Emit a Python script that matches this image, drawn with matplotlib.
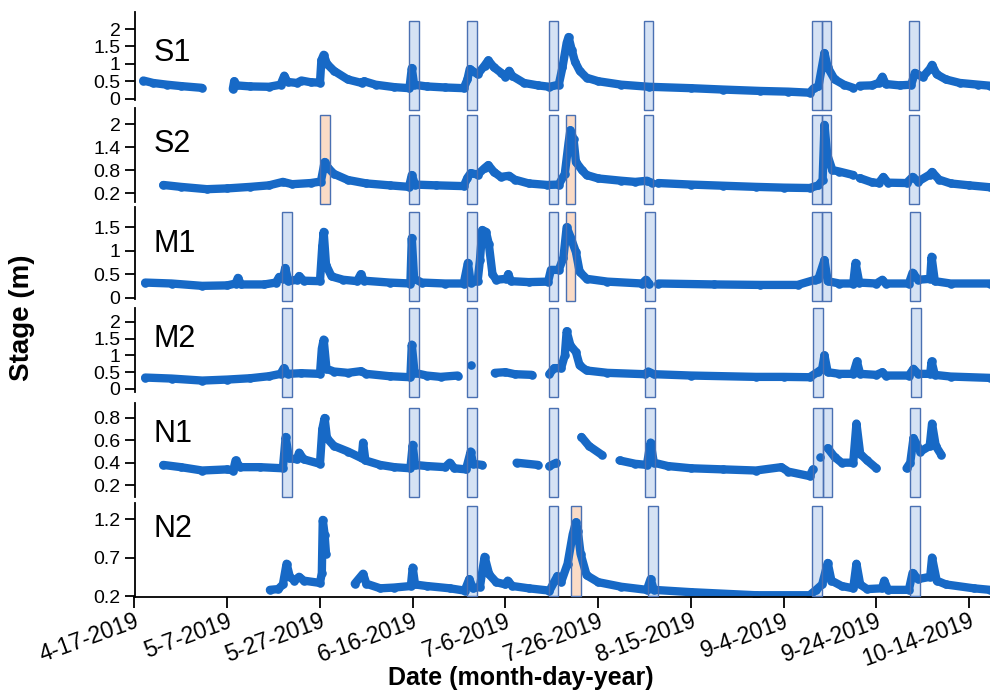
import numpy as np
import pandas as pd
import matplotlib
matplotlib.use("Agg")
import matplotlib.pyplot as plt
import matplotlib.dates as mdates
from matplotlib.patches import Rectangle
from matplotlib.transforms import blended_transform_factory

plt.rcParams['font.family'] = ['Liberation Sans', 'DejaVu Sans']

# ---------------- data ----------------
START_DATE = "2019-04-17"
END_DAY = 184.5
TICK_LABELS = ["4-17-2019", "5-7-2019", "5-27-2019", "6-16-2019", "7-6-2019",
               "7-26-2019", "8-15-2019", "9-4-2019", "9-24-2019", "10-14-2019"]
NAN = np.nan

# day offsets from 2019-04-17 and stage (m); NaN = gap in record
s1_day = [1.9, 4, 7, 10, 14.5, NAN, 21.2, 21.5, 22, 25, 29, 31.5, 32.3, 33, 35, 36, 38, 40, 40.3, 40.8,
          41.5, 43, 46, 49, 49.5, 52, 56, 59.3, 59.8, 60.3, 63, 67, 71, 71.8, 72.3, 74, 75.5, 76.3,
          77.5, 79, 80, 80.8, 81.5, 84, 87, 89.5, 91.5, 92.3, 93.2, 93.6, 94.3, 95, 96, 97.5, 100,
          105, 111, 120, 127, 135, 141, 145.6, 146.5, 147.5, 148.8, 149.5, 151, 153, 155, NAN, 156.4,
          159, 160.5, 161.3, 162, 165, 167.5, 168.3, 170, 171.5, 172, 173, 175, 178, 182, 184.5]
s1_val = [0.52, 0.45, 0.40, 0.36, 0.31, NAN, 0.28, 0.50, 0.38, 0.35, 0.34, 0.40, 0.66, 0.48, 0.45, 0.52,
          0.47, 0.46, 1.10, 1.26, 1.00, 0.80, 0.55, 0.45, 0.50, 0.40, 0.33, 0.30, 0.88, 0.40, 0.35, 0.32,
          0.30, 0.55, 0.85, 0.70, 0.95, 1.10, 0.90, 0.75, 0.63, 0.80, 0.65, 0.45, 0.38, 0.34, 0.40, 0.90,
          1.60, 1.77, 1.40, 1.06, 0.80, 0.60, 0.50, 0.40, 0.34, 0.30, 0.26, 0.22, 0.20, 0.17, 0.30, 0.35,
          1.31, 0.90, 0.55, 0.40, 0.31, NAN, 0.37, 0.38, 0.45, 0.63, 0.42, 0.38, 0.40, 0.74, 0.62, 0.85,
          0.97, 0.70, 0.55, 0.45, 0.40, 0.37]

s2_day = [6.2, 10, 15.6, 20, 25, 29, 32, 34, 38, 40.2, 41, 41.8, 43, 46, 50, 55, 59.2, 59.8, 60.5, 65,
          71, 71.8, 72.5, 74, 75.5, 76.3, 77.5, 79, 80.8, 82, 85, 89, 91.5, 92.8, 93.6, 94, 94.7, 95.2,
          96.5, 97.5, 100, 105, 108, 110.5, 111.5, NAN, 113, 120, 127, 134, 140, 145.6, 147.5, 148.4,
          148.8, 149.4, 150.5, 152, 155, NAN, 156.4, 159, 160.5, 161.5, 162.5, 166.5, 167.8, 169, 171.5,
          172, 173.5, 176, 180, 184.5]
s2_val = [0.41, 0.36, 0.30, 0.32, 0.36, 0.40, 0.49, 0.43, 0.46, 0.50, 1.01, 0.85, 0.70, 0.54, 0.45, 0.40,
          0.36, 0.67, 0.42, 0.40, 0.38, 0.60, 0.72, 0.68, 0.85, 0.93, 0.75, 0.62, 0.65, 0.55, 0.45, 0.41,
          0.42, 0.70, 1.50, 1.84, 1.60, 1.01, 0.80, 0.67, 0.58, 0.52, 0.49, 0.52, 0.47, NAN, 0.46, 0.42,
          0.39, 0.36, 0.34, 0.33, 0.40, 0.54, 1.98, 1.20, 0.80, 0.76, 0.67, NAN, 0.59, 0.48, 0.46, 0.62,
          0.47, 0.46, 0.62, 0.50, 0.68, 0.75, 0.55, 0.45, 0.40, 0.35]

m1_day = [2.3, 8, 14.6, 20, 21.8, 22.3, 23, 28, 30.5, 31.2, 32, 32.5, 33.2, 35, 35.5, 36.5, 40, 40.5,
          40.8, 41.3, 42.5, 45, 48, 48.8, 49.5, 55, 59.5, 59.8, 60.3, 62, 67, 71, 71.9, 72.5, 74, 74.5,
          75, 75.8, 76.4, 77.2, 78, 80.2, 80.6, 81.2, 85, 89.2, 89.8, 91.5, 92.5, 93.2, 94, 95.2, 96,
          97.5, 102, 109.5, 110.3, 111, NAN, 113, 125, 135, 143, 146.8, 147.5, 148.8, 149.5, 152, 155,
          155.5, 156.3, 160, 161.3, 162, 167, 167.8, 169, 171.6, 171.9, 172.6, 176, 184.5]
m1_val = [0.32, 0.30, 0.25, 0.26, 0.30, 0.42, 0.28, 0.28, 0.32, 0.44, 0.40, 0.63, 0.35, 0.38, 0.46, 0.36,
          0.35, 1.10, 1.40, 0.70, 0.45, 0.38, 0.35, 0.50, 0.36, 0.32, 0.30, 1.27, 0.40, 0.32, 0.30, 0.30,
          0.74, 0.32, 0.35, 0.80, 1.44, 1.40, 1.15, 0.50, 0.38, 0.40, 0.50, 0.35, 0.33, 0.34, 0.59, 0.59,
          0.85, 1.50, 1.30, 0.97, 0.55, 0.40, 0.34, 0.30, 0.38, 0.30, NAN, 0.30, 0.28, 0.27, 0.27, 0.38,
          0.40, 0.80, 0.35, 0.30, 0.30, 0.74, 0.32, 0.30, 0.38, 0.30, 0.30, 0.53, 0.38, 0.40, 0.87, 0.35,
          0.30, 0.30]

m2_day = [2.3, 8, 14.6, 20, 25, 29, 31.5, 32.2, 33, 36, 40, 40.4, 40.8, 41.4, 43, 46, 48.8, 50, 55, 59.5,
          59.8, 60.4, 63, 66, 69.7, NAN, 72.5, NAN, 77.7, 80, 82, 85.7, NAN, 89.5, 90.5, 92, 92.8, 93.2,
          94, 95.2, 96, 97.5, 102, 110, 110.8, 112, 120, 134, 140, 145.6, 147.3, 148.3, 148.8, 149.5,
          152, 155, 155.8, 156.5, 160, 161.3, 162, 167, 168, 169, 171.6, 171.9, 172.6, 176, 184.5]
m2_val = [0.34, 0.31, 0.25, 0.28, 0.32, 0.38, 0.45, 0.62, 0.45, 0.47, 0.45, 1.20, 1.47, 0.60, 0.52, 0.48,
          0.53, 0.45, 0.38, 0.35, 1.32, 0.48, 0.40, 0.36, 0.40, NAN, 0.70, NAN, 0.48, 0.50, 0.44, 0.42,
          NAN, 0.45, 0.62, 0.62, 1.00, 1.72, 1.30, 1.10, 0.70, 0.55, 0.48, 0.44, 0.52, 0.44, 0.40, 0.36,
          0.36, 0.35, 0.50, 0.60, 1.00, 0.50, 0.45, 0.45, 0.82, 0.45, 0.42, 0.50, 0.40, 0.40, 0.60, 0.45,
          0.45, 0.82, 0.42, 0.37, 0.33]

n1_day = [6.2, 10, 14.6, 20, 21.3, 21.8, 22.8, 27, 32, 32.6, 33.3, 35, 35.5, 36.5, 40, 40.5, 41, 41.5,
          43, 46, 49, 49.3, 49.8, 53, 56, 59.5, 60, 60.5, 63, 67, 68, 69, 71.5, 72.5, 73, 75, NAN, 82.4,
          87, NAN, 89.5, 91, NAN, 96.4, 98, 100.8, NAN, 104.6, 108, 110.5, 111.3, 112, 115, 120, 127,
          134, 139.5, 141, 145.6, 146.3, NAN, 147.8, NAN, 149.5, 151, 152.5, 155, 155.7, 156.5, 158,
          160, NAN, 166.5, 167.3, 168, 169.5, 171.5, 172, 172.8, 174]
n1_val = [0.38, 0.36, 0.33, 0.34, 0.33, 0.42, 0.36, 0.36, 0.35, 0.63, 0.44, 0.43, 0.49, 0.43, 0.39, 0.70,
          0.80, 0.62, 0.55, 0.50, 0.44, 0.58, 0.42, 0.38, 0.36, 0.35, 0.56, 0.38, 0.37, 0.36, 0.40, 0.35,
          0.34, 0.50, 0.39, 0.38, NAN, 0.40, 0.38, NAN, 0.37, 0.40, NAN, 0.63, 0.55, 0.47, NAN, 0.42,
          0.39, 0.38, 0.58, 0.40, 0.37, 0.35, 0.34, 0.33, 0.36, 0.32, 0.28, 0.34, NAN, 0.45, NAN, 0.53,
          0.45, 0.40, 0.40, 0.75, 0.48, 0.42, 0.35, NAN, 0.35, 0.40, 0.62, 0.50, 0.55, 0.75, 0.55, 0.47]

n2_day = [29.2, 31, 32, 32.8, 33.5, 34.5, 35.5, 36.5, 40, 40.4, 40.6, 41, 41.3, NAN, 47.5, 49.3, 50, 53,
          56, 59.6, 60, 60.5, 63, 68, 71.2, 72.2, 73, 74.5, 75.5, 76.5, 78, 80, 80.5, 81.5, 85, 89.5,
          91.2, 92, 93.4, 94.5, 95.2, 95.6, 96.2, 97.5, 100, 105, 110.5, 111.3, 112, 120, 134, 145.6,
          147, 148.3, 149.5, 150.3, 152.5, 155, 155.7, 156.5, 158, 161.2, 161.7, 162.5, 167, 167.8, 169,
          171.6, 172, 173, 175, 181, 184.5]
n2_val = [0.28, 0.29, 0.35, 0.62, 0.45, 0.40, 0.45, 0.40, 0.37, 0.50, 1.19, 1.00, 0.75, NAN, 0.36, 0.49,
          0.36, 0.30, 0.31, 0.33, 0.57, 0.35, 0.33, 0.30, 0.27, 0.42, 0.30, 0.32, 0.71, 0.48, 0.38, 0.35,
          0.40, 0.33, 0.30, 0.27, 0.46, 0.38, 0.62, 1.00, 1.16, 1.05, 0.75, 0.47, 0.38, 0.32, 0.28, 0.42,
          0.28, 0.25, 0.21, 0.21, 0.28, 0.35, 0.63, 0.40, 0.33, 0.30, 0.62, 0.35, 0.29, 0.30, 0.40, 0.28,
          0.28, 0.50, 0.42, 0.45, 0.70, 0.40, 0.35, 0.30, 0.28]

# event windows (start day offsets), blue = rain events, orange = highlighted events
EVENT_DAYS = 2.1
s1_blue = [59.2, 71.7, 89.3, 109.8, 146.2, 148.2, 167.1]
s1_orange = []
s2_blue = [59.2, 71.7, 89.3, 109.8, 146.2, 148.2, 167.1]
s2_orange = [40.0, 93.0]
m1_blue = [31.8, 59.2, 71.7, 89.3, 110.2, 146.2, 148.2, 167.3]
m1_orange = [93.0]
m2_blue = [31.8, 59.2, 71.7, 89.3, 110.2, 146.4, 167.5]
m2_orange = []
n1_blue = [31.8, 59.2, 71.7, 89.3, 110.2, 146.4, 148.4, 167.3]
n1_orange = []
n2_blue = [71.7, 89.3, 110.7, 146.2, 167.3]
n2_orange = [94.1]

s1_ticks = [0, 0.5, 1, 1.5, 2]
s2_ticks = [0.2, 0.8, 1.4, 2]
m1_ticks = [0, 0.5, 1, 1.5]
m2_ticks = [0, 0.5, 1, 1.5, 2]
n1_ticks = [0.2, 0.4, 0.6, 0.8]
n2_ticks = [0.2, 0.7, 1.2]

# ---------------- layout ----------------
W, H = 990, 697
fig = plt.figure(figsize=(W / 100, H / 100), dpi=100)
base = mdates.date2num(pd.Timestamp(START_DATE))
tick_pos = mdates.date2num(pd.to_datetime(TICK_LABELS, format="%m-%d-%Y"))

panels = [
    # name, days, vals, blue, orange, ticks, (axis top px, bottom px), ylim, (rect top px, bottom px), label baseline px
    ("S1", s1_day, s1_val, s1_blue, s1_orange, s1_ticks, (12, 100), (-0.04, 2.49), (21, 110), 61),
    ("S2", s2_day, s2_val, s2_blue, s2_orange, s2_ticks, (108, 202), (-0.035, 2.42), (115, 204), 152),
    ("M1", m1_day, m1_val, m1_blue, m1_orange, m1_ticks, (207, 299), (-0.03, 1.93), (212, 301), 252),
    ("M2", m2_day, m2_val, m2_blue, m2_orange, m2_ticks, (308, 392), (-0.09, 2.41), (308, 397), 347),
    ("N1", n1_day, n1_val, n1_blue, n1_orange, n1_ticks, (403, 497), (0.093, 0.934), (408, 497), 442),
    ("N2", n2_day, n2_val, n2_blue, n2_orange, n2_ticks, (503, 597), (0.187, 1.41), (506, 596), 537),
]

L = 134.5 / W
TRACE = "#1769C6"
BLUE_FILL = "#D5E2F4"
ORANGE_FILL = "#FADBC6"
EDGE = "#4A70B2"

for i, (name, days, vals, blue, orange, ticks, (ta, ba), ylim, (tr, br), base_px) in enumerate(panels):
    ax = fig.add_axes([L, 1 - ba / H, 1 - L, (ba - ta) / H])
    x = base + np.asarray(days, dtype=float)
    y = np.asarray(vals, dtype=float)
    ax.plot(x, y, color=TRACE, lw=6.0, solid_capstyle="round", solid_joinstyle="round",
            marker="o", ms=6.2, mew=0, zorder=2)
    ax.set_xlim(base, base + END_DAY)
    ax.set_ylim(*ylim)
    trans = blended_transform_factory(ax.transData, fig.transFigure)
    for starts, fc in ((blue, BLUE_FILL), (orange, ORANGE_FILL)):
        for d in starts:
            # fill under trace, outline above
            ax.add_patch(Rectangle((base + d, 1 - br / H), EVENT_DAYS, (br - tr) / H,
                                   transform=trans, facecolor=fc, edgecolor="none",
                                   clip_on=False, zorder=1))
            ax.add_patch(Rectangle((base + d, 1 - br / H), EVENT_DAYS, (br - tr) / H,
                                   transform=trans, facecolor="none", edgecolor=EDGE,
                                   lw=1.0, clip_on=False, zorder=3))
    for s in ("top", "right"):
        ax.spines[s].set_visible(False)
    ax.spines["left"].set_linewidth(1.3)
    ax.set_yticks(ticks)
    ax.set_yticklabels([f"{t:g}" for t in ticks])
    ax.tick_params(axis="y", direction="out", length=7, width=1.3, pad=3, labelsize=14)
    ax.patch.set_visible(False)
    if i < len(panels) - 1:
        ax.spines["bottom"].set_visible(False)
        ax.set_xticks([])
    else:
        ax.spines["bottom"].set_linewidth(1.3)
        ax.set_xticks(tick_pos)
        ax.set_xticklabels(TICK_LABELS, rotation=20, ha="right", va="top",
                           rotation_mode="anchor")
        ax.tick_params(axis="x", direction="out", length=8, width=1.3, pad=1, labelsize=16.5)
    fig.text(154 / W, 1 - base_px / H, name, fontsize=22, ha="left", va="baseline")

fig.text(22 / W, 1 - 318 / H, "Stage (m)", rotation=90, ha="center", va="center",
         fontsize=20, fontweight="bold")
fig.text(521 / W, 1 - 678 / H, "Date (month-day-year)", ha="center", va="center",
         fontsize=18, fontweight="bold")

fig.savefig("out.png", dpi=100)
